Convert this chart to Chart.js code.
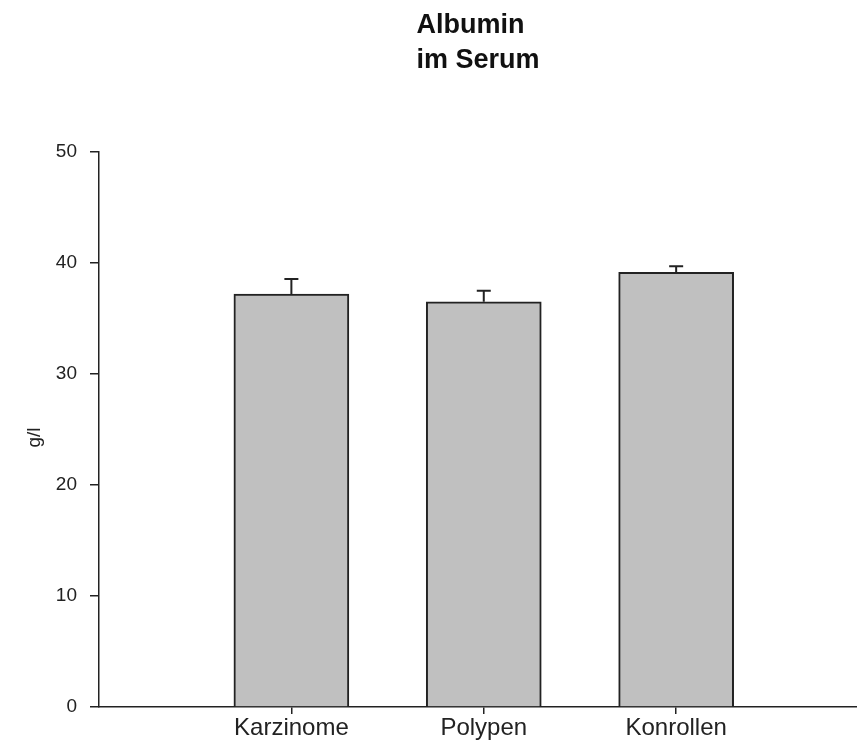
<!DOCTYPE html>
<html>
<head>
<meta charset="utf-8">
<script src="https://cdn.jsdelivr.net/npm/chart.js@4.4.0/dist/chart.umd.min.js"></script>
<style>
  html, body { margin: 0; padding: 0; background: #fff; }
  #wrap { width: 857px; height: 742px; }
</style>
</head>
<body>
<div id="wrap"><canvas id="albuminChart" width="857" height="742"></canvas></div>
<script>
// Albumin im Serum (g/l)
const titleLines = ['Albumin', 'im Serum'];
const groups = ['Karzinome', 'Polypen', 'Konrollen'];
const groupPos = [1, 2, 3];
const means = [37.2, 36.5, 39.15];
const errUpper = [38.55, 37.5, 39.7];
const yTicks = [0, 10, 20, 30, 40, 50];

const FONT = '"Liberation Sans", Arial, sans-serif';

// error bars drawn above each bar (upper only)
const errorBars = {
  id: 'errorBars',
  afterDatasetsDraw(chart) {
    const ctx = chart.ctx;
    const yScale = chart.scales.y;
    const meta = chart.getDatasetMeta(0);
    ctx.save();
    ctx.strokeStyle = '#222';
    ctx.lineWidth = 2;
    meta.data.forEach((bar, i) => {
      const yTop = yScale.getPixelForValue(errUpper[i]);
      ctx.beginPath();
      ctx.moveTo(bar.x, bar.y);
      ctx.lineTo(bar.x, yTop);
      ctx.moveTo(bar.x - 7, yTop);
      ctx.lineTo(bar.x + 7, yTop);
      ctx.stroke();
    });
    ctx.restore();
  }
};

// title block: lines left-aligned, block centred over the plot
const titleBlock = {
  id: 'titleBlock',
  afterDraw(chart) {
    const ctx = chart.ctx;
    const area = chart.chartArea;
    ctx.save();
    ctx.fillStyle = '#111';
    ctx.font = 'bold 27px ' + FONT;
    ctx.textAlign = 'left';
    ctx.textBaseline = 'alphabetic';
    const w = Math.max(...titleLines.map(t => ctx.measureText(t).width));
    const x0 = (area.left + area.right) / 2 - w / 2;
    titleLines.forEach((t, i) => ctx.fillText(t, x0, 33 + i * 35));
    ctx.restore();
  }
};

// y axis title
const yTitle = {
  id: 'yTitle',
  afterDraw(chart) {
    const ctx = chart.ctx;
    const area = chart.chartArea;
    ctx.save();
    ctx.translate(35, (area.top + area.bottom) / 2 + 8);
    ctx.rotate(-Math.PI / 2);
    ctx.fillStyle = '#222';
    ctx.font = '19px ' + FONT;
    ctx.textAlign = 'center';
    ctx.textBaseline = 'middle';
    ctx.fillText('g/l', 0, 0);
    ctx.restore();
  }
};

const ctx = document.getElementById('albuminChart').getContext('2d');
new Chart(ctx, {
  type: 'bar',
  data: {
    datasets: [{
      data: groupPos.map((x, i) => ({ x: x, y: means[i] })),
      backgroundColor: '#c0c0c0',
      borderColor: '#222',
      borderWidth: 2,
      barThickness: 115
    }]
  },
  options: {
    responsive: false,
    animation: false,
    layout: { padding: { top: 152, left: 0, right: 0, bottom: 0 } },
    plugins: {
      legend: { display: false },
      tooltip: { enabled: false },
      title: { display: false }
    },
    scales: {
      x: {
        type: 'linear',
        offset: false,
        min: 0,
        max: 3.94,
        afterBuildTicks: s => { s.ticks = groupPos.map(v => ({ value: v })); },
        afterFit: s => { s.height = 35; },
        ticks: {
          callback: (v) => groups[groupPos.indexOf(v)] || '',
          color: '#222',
          font: { family: FONT, size: 24 },
          padding: 0,
          maxRotation: 0,
          autoSkip: false
        },
        grid: { offset: false, drawOnChartArea: false, tickLength: 7, color: '#222', lineWidth: 1.5 },
        border: { color: '#222', width: 1.5 }
      },
      y: {
        min: 0,
        max: 50,
        afterBuildTicks: s => { s.ticks = yTicks.map(v => ({ value: v })); },
        afterFit: s => { s.width = 99; },
        ticks: {
          color: '#222',
          font: { family: FONT, size: 19 },
          padding: 13
        },
        grid: { drawOnChartArea: false, tickLength: 9, color: '#222', lineWidth: 1.5 },
        border: { color: '#222', width: 1.5 }
      }
    }
  },
  plugins: [errorBars, titleBlock, yTitle]
});
</script>
</body>
</html>
